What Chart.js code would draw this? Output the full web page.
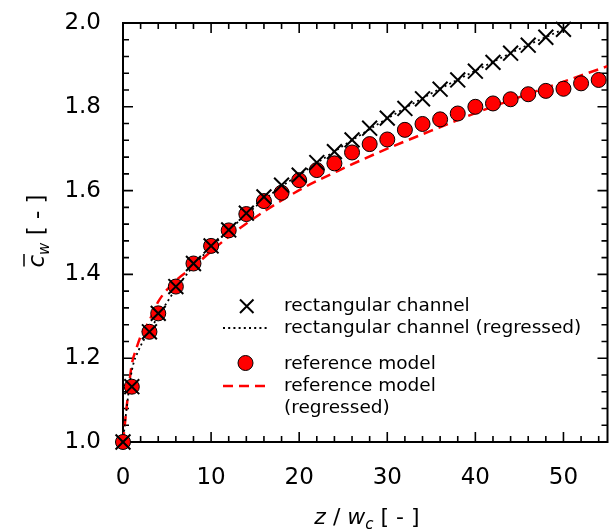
<!DOCTYPE html>
<html>
<head>
<meta charset="utf-8">
<script src="https://cdn.jsdelivr.net/npm/chart.js@4.4.1/dist/chart.umd.min.js"></script>
<style>
  html, body { margin: 0; padding: 0; background: #fff; overflow: hidden; }
  #wrap { width: 620px; height: 529px; }
</style>
</head>
<body>
<div id="wrap"><canvas id="cwChart" width="620" height="529"></canvas></div>
<script>
// values
const rectZ = [0, 1, 3, 4, 6, 8, 10, 12, 14, 16, 18, 20, 22, 24, 26, 28, 30, 32, 34, 36, 38, 40, 42, 44, 46, 48, 50];
const rectC = [1.0, 1.132, 1.263, 1.307, 1.371, 1.426, 1.468, 1.506, 1.546, 1.585, 1.613, 1.637, 1.667, 1.693, 1.721, 1.749, 1.773, 1.796, 1.819, 1.842, 1.864, 1.885, 1.906, 1.928, 1.947, 1.966, 1.985];

const refZ = [0, 1, 3, 4, 6, 8, 10, 12, 14, 16, 18, 20, 22, 24, 26, 28, 30, 32, 34, 36, 38, 40, 42, 44, 46, 48, 50, 52, 54];
const refC = [1.0, 1.132, 1.263, 1.307, 1.371, 1.426, 1.468, 1.505, 1.544, 1.575, 1.595, 1.625, 1.649, 1.665, 1.691, 1.711, 1.722, 1.745, 1.759, 1.770, 1.784, 1.800, 1.808, 1.818, 1.830, 1.838, 1.843, 1.856, 1.864];

// regressed curves
const rectFitZ = [0, 0.3, 1, 1.8, 3, 4, 6, 8, 10, 12, 14, 16, 18, 20, 25, 30, 35, 40, 45, 50];
const rectFitC = [1.0, 1.06, 1.17, 1.22, 1.265, 1.30, 1.365, 1.42, 1.465, 1.505, 1.543, 1.578, 1.61, 1.638, 1.707, 1.772, 1.832, 1.886, 1.938, 1.985];

const refFitZ = [0, 0.1, 0.5, 1, 1.5, 2, 3, 4, 6, 8, 10, 12, 15, 20, 25, 30, 35, 40, 45, 50, 55];
const refFitC = [1.0, 1.02, 1.10, 1.185, 1.222, 1.252, 1.29, 1.335, 1.385, 1.418, 1.455, 1.49, 1.536, 1.601, 1.653, 1.70, 1.743, 1.785, 1.823, 1.860, 1.897];

const xTicks = [0, 10, 20, 30, 40, 50];
const yTicks = [1.0, 1.2, 1.4, 1.6, 1.8, 2.0];

const legendLabels = ['rectangular channel', 'rectangular channel (regressed)', 'reference model', 'reference model', '(regressed)'];

const toPts = (xs, ys) => xs.map((v, i) => ({ x: v, y: ys[i] }));

const tickFont = { family: 'DejaVu Sans', size: 23 };

// frame with inward ticks on all four sides
const framePlugin = {
    id: 'frame',
    beforeDatasetsDraw(chart) {
        const { ctx, chartArea: a, scales: { x, y } } = chart;
        ctx.save();
        ctx.strokeStyle = '#000';
        ctx.lineWidth = 2;
        ctx.strokeRect(a.left, a.top, a.right - a.left, a.bottom - a.top);
        ctx.lineWidth = 1.6;
        ctx.beginPath();
        for (let i = 0; i * 2 <= x.max; i++) {
            const px = x.getPixelForValue(i * 2);
            const len = i % 5 === 0 ? 10 : 6;
            ctx.moveTo(px, a.bottom); ctx.lineTo(px, a.bottom - len);
            ctx.moveTo(px, a.top); ctx.lineTo(px, a.top + len);
        }
        for (let i = 0; i <= 25; i++) {
            const py = y.getPixelForValue(1 + i * 0.04);
            const len = i % 5 === 0 ? 10 : 6;
            ctx.moveTo(a.left, py); ctx.lineTo(a.left + len, py);
            ctx.moveTo(a.right, py); ctx.lineTo(a.right - len, py);
        }
        ctx.stroke();
        ctx.restore();
    }
};

// axis titles (italic symbols, subscripts, overline) and the in-plot legend
const textPlugin = {
    id: 'texts',
    afterDraw(chart) {
        const { ctx } = chart;
        ctx.save();
        ctx.fillStyle = '#000';
        ctx.textBaseline = 'alphabetic';

        // x title: z / w_c [ - ]
        const parts = [
            { t: 'z', f: 'italic 22px "DejaVu Sans"', dy: 0 },
            { t: ' / ', f: '22px "DejaVu Sans"', dy: 0 },
            { t: 'w', f: 'italic 22px "DejaVu Sans"', dy: 0 },
            { t: 'c', f: 'italic 15px "DejaVu Sans"', dy: 5 },
            { t: ' [ - ]', f: '22px "DejaVu Sans"', dy: 0 }
        ];
        let w = 0;
        parts.forEach(p => { ctx.font = p.f; w += ctx.measureText(p.t).width; });
        let cx = 367 - w / 2;
        parts.forEach(p => { ctx.font = p.f; ctx.fillText(p.t, cx, 524 + p.dy); cx += ctx.measureText(p.t).width; });

        // y title: c-bar_w [ - ]
        ctx.save();
        ctx.translate(44, 231);
        ctx.rotate(-Math.PI / 2);
        const yp = [
            { t: 'c', f: 'italic 23px "DejaVu Sans"', dy: 0 },
            { t: 'w', f: 'italic 15px "DejaVu Sans"', dy: 5 },
            { t: ' [ - ]', f: '23px "DejaVu Sans"', dy: 0 }
        ];
        w = 0;
        yp.forEach(p => { ctx.font = p.f; w += ctx.measureText(p.t).width; });
        cx = -w / 2;
        yp.forEach((p, i) => {
            ctx.font = p.f;
            const tw = ctx.measureText(p.t).width;
            ctx.fillText(p.t, cx, p.dy);
            if (i === 0) {
                ctx.lineWidth = 1.5;
                ctx.beginPath();
                ctx.moveTo(cx + 1, -20); ctx.lineTo(cx + tw + 1, -20);
                ctx.stroke();
            }
            cx += tw;
        });
        ctx.restore();

        // legend
        ctx.font = '18.5px "DejaVu Sans"';
        const tx = 284;
        const rows = [311, 333, 369, 391, 413];
        legendLabels.forEach((s, i) => ctx.fillText(s, tx, rows[i]));

        ctx.strokeStyle = '#000';
        ctx.lineWidth = 2;
        ctx.beginPath();
        ctx.moveTo(240, 299.5); ctx.lineTo(253.5, 313);
        ctx.moveTo(253.5, 299.5); ctx.lineTo(240, 313);
        ctx.stroke();

        ctx.lineWidth = 1.8;
        ctx.setLineDash([2, 3.2]);
        ctx.beginPath();
        ctx.moveTo(223, 328); ctx.lineTo(268, 328);
        ctx.stroke();

        ctx.setLineDash([]);
        ctx.fillStyle = '#ff0000';
        ctx.lineWidth = 1;
        ctx.beginPath();
        ctx.arc(245.5, 363, 7.5, 0, Math.PI * 2);
        ctx.fill();
        ctx.stroke();

        ctx.strokeStyle = '#ff0000';
        ctx.lineWidth = 2.5;
        ctx.setLineDash([10, 6]);
        ctx.beginPath();
        ctx.moveTo(223, 386); ctx.lineTo(269, 386);
        ctx.stroke();
        ctx.restore();
    }
};

const ctx = document.getElementById('cwChart').getContext('2d');

const chart = new Chart(ctx, {
    type: 'scatter',
    data: {
        datasets: [
            {
                label: legendLabels[0],
                data: toPts(rectZ, rectC),
                pointStyle: 'crossRot',
                pointRadius: 10.5,
                borderColor: '#000',
                borderWidth: 2,
                showLine: false,
                clip: false,
                order: 0
            },
            {
                label: legendLabels[2],
                data: toPts(refZ, refC),
                pointStyle: 'circle',
                pointRadius: 7.5,
                backgroundColor: '#ff0000',
                borderColor: '#000',
                borderWidth: 1,
                showLine: false,
                clip: false,
                order: 1
            },
            {
                label: legendLabels[1],
                data: toPts(rectFitZ, rectFitC),
                showLine: true,
                borderColor: '#000',
                borderWidth: 1.8,
                borderDash: [2, 3.2],
                pointRadius: 0,
                cubicInterpolationMode: 'monotone',
                order: 2
            },
            {
                label: legendLabels[3] + ' ' + legendLabels[4],
                data: toPts(refFitZ, refFitC),
                showLine: true,
                borderColor: '#ff0000',
                borderWidth: 2.5,
                borderDash: [10, 6],
                pointRadius: 0,
                cubicInterpolationMode: 'monotone',
                order: 3
            }
        ]
    },
    options: {
        responsive: false,
        animation: false,
        layout: { padding: { top: 23, right: 2, left: 0, bottom: 0 } },
        plugins: {
            legend: { display: false },
            tooltip: { enabled: false }
        },
        scales: {
            x: {
                type: 'linear',
                min: 0,
                max: 55,
                grid: { display: false },
                border: { display: false },
                afterBuildTicks: s => { s.ticks = xTicks.map(v => ({ value: v })); },
                afterFit: s => { s.height = 87; s.paddingLeft = 0; s.paddingRight = 0; },
                ticks: { color: '#000', font: tickFont, padding: 14, maxRotation: 0 }
            },
            y: {
                type: 'linear',
                min: 1.0,
                max: 2.0,
                grid: { display: false },
                border: { display: false },
                afterBuildTicks: s => { s.ticks = yTicks.map(v => ({ value: v })); },
                afterFit: s => { s.width = 123; s.paddingTop = 0; s.paddingBottom = 0; },
                ticks: { color: '#000', font: tickFont, padding: 14, callback: v => v.toFixed(1) }
            }
        }
    },
    plugins: [framePlugin, textPlugin]
});
</script>
</body>
</html>
